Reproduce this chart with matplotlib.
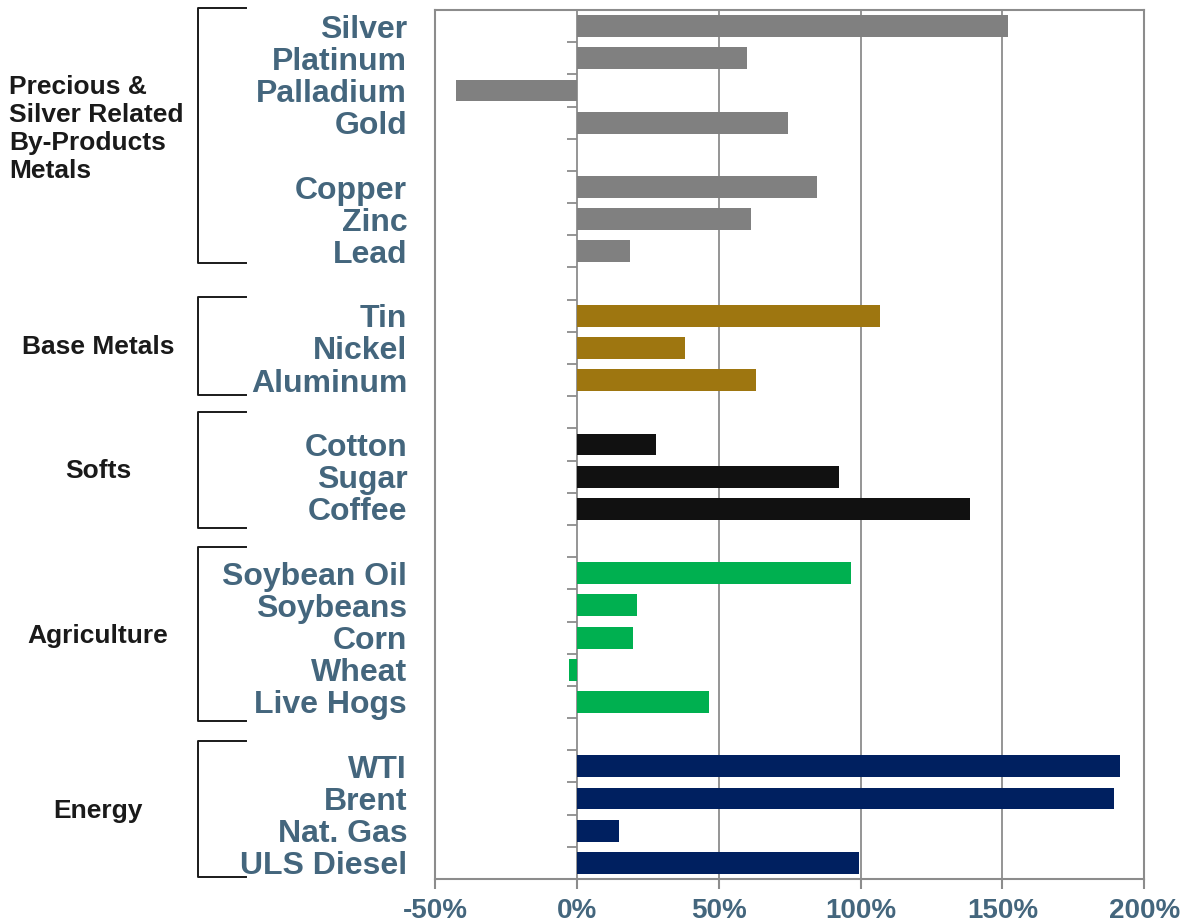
import numpy as np
from matplotlib import pyplot as plt
from matplotlib import transforms

plt.rcParams['font.family'] = ['Liberation Sans', 'DejaVu Sans']

# bar segments (a blank row goes between each segment)
seg_labels = [
    ['Silver', 'Platinum', 'Palladium', 'Gold'],
    ['Copper', 'Zinc', 'Lead'],
    ['Tin', 'Nickel', 'Aluminum'],
    ['Cotton', 'Sugar', 'Coffee'],
    ['Soybean Oil', 'Soybeans', 'Corn', 'Wheat', 'Live Hogs'],
    ['WTI', 'Brent', 'Nat. Gas', 'ULS Diesel'],
]
seg_values = [
    [152, 60, -42.5, 74.5],
    [84.5, 61.5, 18.8],
    [107, 38, 63.3],
    [27.8, 92.3, 138.5],
    [96.5, 21.2, 19.8, -2.6, 46.5],
    [191.5, 189.3, 14.8, 99.5],
]
seg_colors = ['#808080', '#808080', '#9E7610', '#111111', '#00B050', '#002060']

# group names and which segments they span
group_names = ['Precious &\nSilver Related\nBy-Products\nMetals', 'Base Metals', 'Softs',
               'Agriculture', 'Energy']
group_segs = [[0, 1], [2], [3], [4], [5]]
# bracket extents (in rows) as drawn in the source
group_span = [(-0.56, 7.35), (8.41, 11.45), (11.98, 15.58), (16.2, 21.6), (22.22, 26.44)]

xticks = [-50, 0, 50, 100, 150, 200]
xticklabels = ['-50%', '0%', '50%', '100%', '150%', '200%']

lab_color = '#44667D'
grid_color = '#8C8C8C'

# row positions
labels, values, colors, pos = [], [], [], []
p = 0
for labs, vals, c in zip(seg_labels, seg_values, seg_colors):
    for l, v in zip(labs, vals):
        labels.append(l); values.append(v); colors.append(c); pos.append(p)
        p += 1
    p += 1
nrows = p - 1

fig = plt.figure(figsize=(11.83, 9.24), dpi=100)
ax = fig.add_axes([0.3677, 0.0487, 0.5995, 0.9405])

ax.barh(pos, values, height=0.68, color=colors, zorder=3)
ax.set_ylim(nrows - 0.5, -0.5)
ax.set_xlim(-50, 200)

ax.set_yticks(pos)
ax.set_yticklabels(labels, fontsize=23, fontweight='bold', color=lab_color)
ax.tick_params(axis='y', length=0, pad=20)

ax.set_xticks(xticks)
ax.set_xticklabels(xticklabels, fontsize=20, fontweight='bold', color=lab_color)
ax.tick_params(axis='x', length=7, width=1.5, color=grid_color, pad=7)

for s in ax.spines.values():
    s.set_color(grid_color)
    s.set_linewidth(1.5)

ax.grid(axis='x', color=grid_color, linewidth=1.3, zorder=1)

# small ticks on the zero axis between rows
bounds = np.arange(-0.5, nrows + 0.5, 1.0)[1:]
ax.hlines(bounds, -3.6, 0, color=grid_color, linewidth=1.3, zorder=2)

# group brackets and names
tr = transforms.blended_transform_factory(ax.transAxes, ax.transData)
for name, segs, (top, bot) in zip(group_names, group_segs, group_span):
    xv, xh = -0.334, -0.267
    ax.plot([xh, xv, xv, xh], [top, top, bot, bot], color='#1a1a1a', linewidth=1.4,
            transform=tr, clip_on=False)
    mid = (top + bot) / 2
    if len(segs) > 1:
        ax.text(-0.6, mid - 0.2, name, transform=tr, ha='left', va='center',
                fontsize=19, fontweight='bold', color='#1a1a1a', linespacing=1.21)
    else:
        ax.text(-0.475, mid + 0.05, name, transform=tr, ha='center', va='center',
                fontsize=19, fontweight='bold', color='#1a1a1a')

fig.savefig('out.png', dpi=100)
